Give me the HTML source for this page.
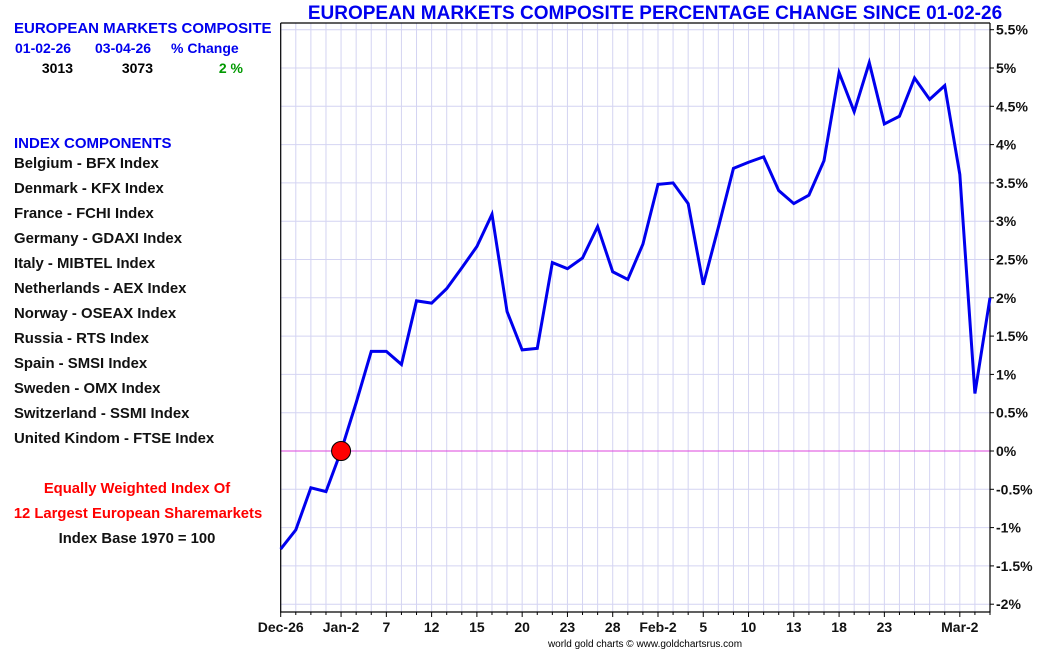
<!DOCTYPE html>
<html><head><meta charset="utf-8"><style>
body{margin:0;background:#fff;}
svg{display:block;font-family:"Liberation Sans",Arial,sans-serif;font-weight:bold;}
</style></head><body>
<svg id="chart" width="1050" height="650" viewBox="0 0 1050 650">
<g>
<text x="14" y="33" font-size="15" fill="#0000ee">EUROPEAN MARKETS COMPOSITE</text>
<text x="15" y="53" font-size="14" fill="#0000ee">01-02-26</text>
<text x="95" y="53" font-size="14" fill="#0000ee">03-04-26</text>
<text x="171" y="53" font-size="14" fill="#0000ee">% Change</text>
<text x="73" y="73" font-size="14" fill="#000" text-anchor="end">3013</text>
<text x="153" y="73" font-size="14" fill="#000" text-anchor="end">3073</text>
<text x="243" y="73" font-size="14" fill="#009900" text-anchor="end">2 %</text>
<text x="14" y="148" font-size="15" fill="#0000ee">INDEX COMPONENTS</text>
<g font-size="14.9" fill="#111">
<text x="14" y="168">Belgium - BFX Index</text>
<text x="14" y="193">Denmark - KFX Index</text>
<text x="14" y="218">France - FCHI Index</text>
<text x="14" y="243">Germany - GDAXI Index</text>
<text x="14" y="268">Italy - MIBTEL Index</text>
<text x="14" y="293">Netherlands - AEX Index</text>
<text x="14" y="318">Norway - OSEAX Index</text>
<text x="14" y="343">Russia - RTS Index</text>
<text x="14" y="368">Spain - SMSI Index</text>
<text x="14" y="393">Sweden - OMX Index</text>
<text x="14" y="418">Switzerland - SSMI Index</text>
<text x="14" y="443">United Kindom - FTSE Index</text>
</g>
<text x="137" y="493" font-size="14.8" fill="#ff0000" text-anchor="middle">Equally Weighted Index Of</text>
<text x="138" y="518" font-size="14.8" fill="#ff0000" text-anchor="middle">12 Largest European Sharemarkets</text>
<text x="137" y="543" font-size="14.8" fill="#111" text-anchor="middle">Index Base 1970 = 100</text>
</g>
<text x="655" y="19" font-size="19" fill="#0000ee" text-anchor="middle">EUROPEAN MARKETS COMPOSITE PERCENTAGE CHANGE SINCE 01-02-26</text>
<text x="645" y="647" font-size="10" fill="#000" font-weight="normal" text-anchor="middle">world gold charts © www.goldchartsrus.com</text>
<g id="grid"></g><g id="axes"></g><g id="series"></g>
</svg>
<script>
const values = [-1.28,-1.03,-0.48,-0.53,0,0.63,1.30,1.30,1.13,1.96,1.93,2.12,2.39,2.67,3.09,1.82,1.32,1.34,2.46,2.38,2.52,2.93,2.34,2.24,2.70,3.48,3.50,3.23,2.17,2.92,3.69,3.77,3.84,3.40,3.23,3.34,3.79,4.94,4.43,5.07,4.27,4.37,4.87,4.59,4.77,3.61,0.75,2.00];
const xLabels = ["Dec-26","Jan-2","7","12","15","20","23","28","Feb-2","5","10","13","18","23","Mar-2"];
const xLabelIdx = [0,4,7,10,13,16,19,22,25,28,31,34,37,40,45];
const yTicks = [-2,-1.5,-1,-0.5,0,0.5,1,1.5,2,2.5,3,3.5,4,4.5,5,5.5];
const markerIdx = 4;

const NS="http://www.w3.org/2000/svg";
const L=280.7,R=990,T=23,B=612;
const n=values.length;
const xs=i=>L+(R-L)*i/(n-1);
const ys=v=>451-v*76.6;
function mk(tag,attrs,parent){const e=document.createElementNS(NS,tag);for(const k in attrs)e.setAttribute(k,attrs[k]);parent.appendChild(e);return e;}
const grid=document.getElementById('grid'),axes=document.getElementById('axes'),series=document.getElementById('series');
for(let i=0;i<n;i++){
  const g=mk('line',{x1:xs(i),x2:xs(i),y1:T,y2:B,stroke:'#d4d4f2','stroke-width':1},grid);
  
  
  const t=mk('line',{x1:xs(i),x2:xs(i),y1:B,y2:B+(xLabelIdx.includes(i)?5:3),stroke:'#000'},axes);
  
  
}
yTicks.forEach(v=>{
  const y=ys(v);
  if(v!==0){const g=mk('line',{x1:L,x2:R,y1:y,y2:y,stroke:'#d4d4f2'},grid);
  
  }
  const t=mk('line',{x1:R,x2:R+4,y1:y,y2:y,stroke:'#000'},axes);
  
  
  const lb=mk('text',{x:R+6,y:y+5,'font-size':14,fill:'#111'},axes);
  lb.textContent=v+'%';
  
  
});
const z=mk('line',{x1:L,x2:R,y1:ys(0),y2:ys(0),stroke:'#dd44dd'},grid);


const ax=mk('path',{d:`M${L} ${T}H${R}M${L} ${T}V${B}H${R}V${T}`,stroke:'#000',fill:'none','stroke-width':1.2},axes);


xLabels.forEach((s,k)=>{
  const t=mk('text',{x:xs(xLabelIdx[k]),y:632,'font-size':14,fill:'#111','text-anchor':'middle'},axes);
  t.textContent=s;
  
  
});
const line=mk('polyline',{points:values.map((v,i)=>xs(i)+','+ys(v)).join(' '),fill:'none',stroke:'#0000ee','stroke-width':3,'stroke-linejoin':'miter'},series);


const c=mk('circle',{cx:xs(markerIdx),cy:ys(values[markerIdx]),r:9.5,fill:'#ff0000',stroke:'#000','stroke-width':1},series);


</script>
</body></html>
